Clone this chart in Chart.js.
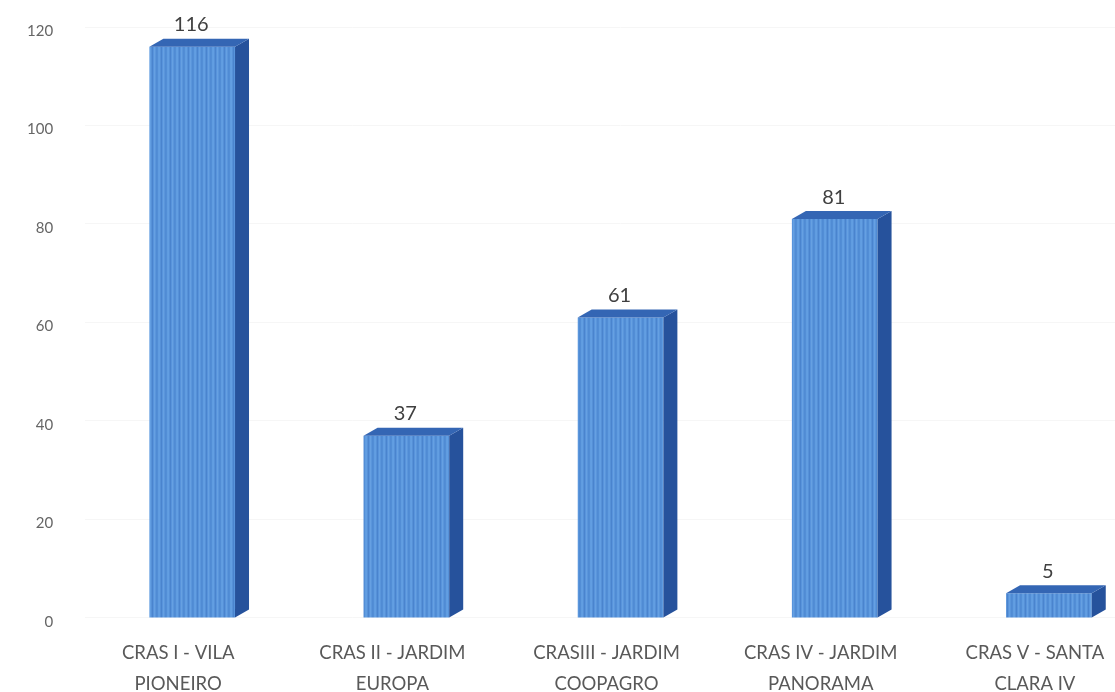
<!DOCTYPE html>
<html>
<head>
<meta charset="utf-8">
<script src="https://cdn.jsdelivr.net/npm/chart.js@4"></script>
<style>
  html, body { margin: 0; padding: 0; background: #fff; overflow: hidden; }
  #wrap { width: 1115px; height: 692px; overflow: hidden; }
  #chart { margin-left: -5px; }
</style>
</head>
<body>
<div id="wrap"><canvas id="chart" width="1165" height="716"></canvas></div>
<script>
// CRAS units and their counts
const categories = [
  ['CRAS I - VILA', 'PIONEIRO'],
  ['CRAS II - JARDIM', 'EUROPA'],
  ['CRASIII - JARDIM', 'COOPAGRO'],
  ['CRAS IV - JARDIM', 'PANORAMA'],
  ['CRAS V - SANTA', 'CLARA IV']
];
const values = [116, 37, 61, 81, 5];
const yMin = 0;
const yMax = 120;
const yStep = 20;

// colours of the box faces
const SIDE = 'rgb(38,82,156)';
const TOP = 'rgb(52,102,180)';
const DEPTH_X = 14;
const DEPTH_Y = 8;

// thin vertical streaks on the front face
function stripePattern() {
  const c = document.createElement('canvas');
  c.width = 9; c.height = 1;
  const g = c.getContext('2d');
  const cols = ['rgb(82,142,214)', 'rgb(96,156,224)', 'rgb(98,158,226)', 'rgb(86,145,216)',
    'rgb(74,132,206)', 'rgb(88,148,220)', 'rgb(102,160,226)', 'rgb(90,150,220)', 'rgb(80,139,212)'];
  cols.forEach((col, i) => { g.fillStyle = col; g.fillRect(i, 0, 1, 1); });
  return g.createPattern(c, 'repeat');
}

// side + top faces and the value above every bar
const boxFaces = {
  id: 'boxFaces',
  afterDatasetsDraw(chart) {
    const ctx = chart.ctx;
    const meta = chart.getDatasetMeta(0);
    ctx.save();
    meta.data.forEach((bar, i) => {
      const p = bar.getProps(['x', 'y', 'width', 'base'], true);
      const l = p.x - p.width / 2, r = p.x + p.width / 2;
      const t = p.y, b = p.base;

      ctx.fillStyle = SIDE;
      ctx.beginPath();
      ctx.moveTo(r, t);
      ctx.lineTo(r + DEPTH_X, t - DEPTH_Y);
      ctx.lineTo(r + DEPTH_X, b - DEPTH_Y);
      ctx.lineTo(r, b);
      ctx.closePath();
      ctx.fill();

      ctx.fillStyle = TOP;
      ctx.beginPath();
      ctx.moveTo(l, t);
      ctx.lineTo(l + DEPTH_X, t - DEPTH_Y);
      ctx.lineTo(r + DEPTH_X, t - DEPTH_Y);
      ctx.lineTo(r, t);
      ctx.closePath();
      ctx.fill();

      ctx.fillStyle = '#404040';
      ctx.font = '20px Lato';
      ctx.textAlign = 'center';
      ctx.textBaseline = 'middle';
      ctx.fillText(String(values[i]), p.x - 1, t - 22);
    });
    ctx.restore();
  }
};

new Chart(document.getElementById('chart'), {
  type: 'bar',
  data: {
    labels: categories,
    datasets: [{
      data: values,
      backgroundColor: stripePattern(),
      borderWidth: 0,
      barPercentage: 0.4,
      categoryPercentage: 1
    }]
  },
  options: {
    responsive: false,
    devicePixelRatio: 1,
    animation: false,
    layout: { padding: { left: 0, top: 27, right: 4, bottom: 5 } },
    plugins: { legend: { display: false }, tooltip: { enabled: false } },
    scales: {
      x: {
        grid: { display: false },
        border: { display: false },
        ticks: {
          color: '#595959',
          font: { family: 'Lato', size: 18.5, lineHeight: 1.65 },
          padding: 12,
          labelOffset: -14,
          maxRotation: 0,
          autoSkip: false
        }
      },
      y: {
        min: yMin,
        max: yMax,
        grid: { color: '#f6f6f6', drawTicks: false },
        border: { display: false },
        ticks: {
          stepSize: yStep,
          color: '#666',
          font: { family: 'Lato', size: 15 },
          padding: 32,
          labelOffset: 4
        },
        // the wide label gap should not push the plot down from the top
        afterFit(scale) {
          scale.paddingTop = 0;
          scale.paddingBottom = 0;
        }
      }
    }
  },
  plugins: [boxFaces]
});
</script>
</body>
</html>
